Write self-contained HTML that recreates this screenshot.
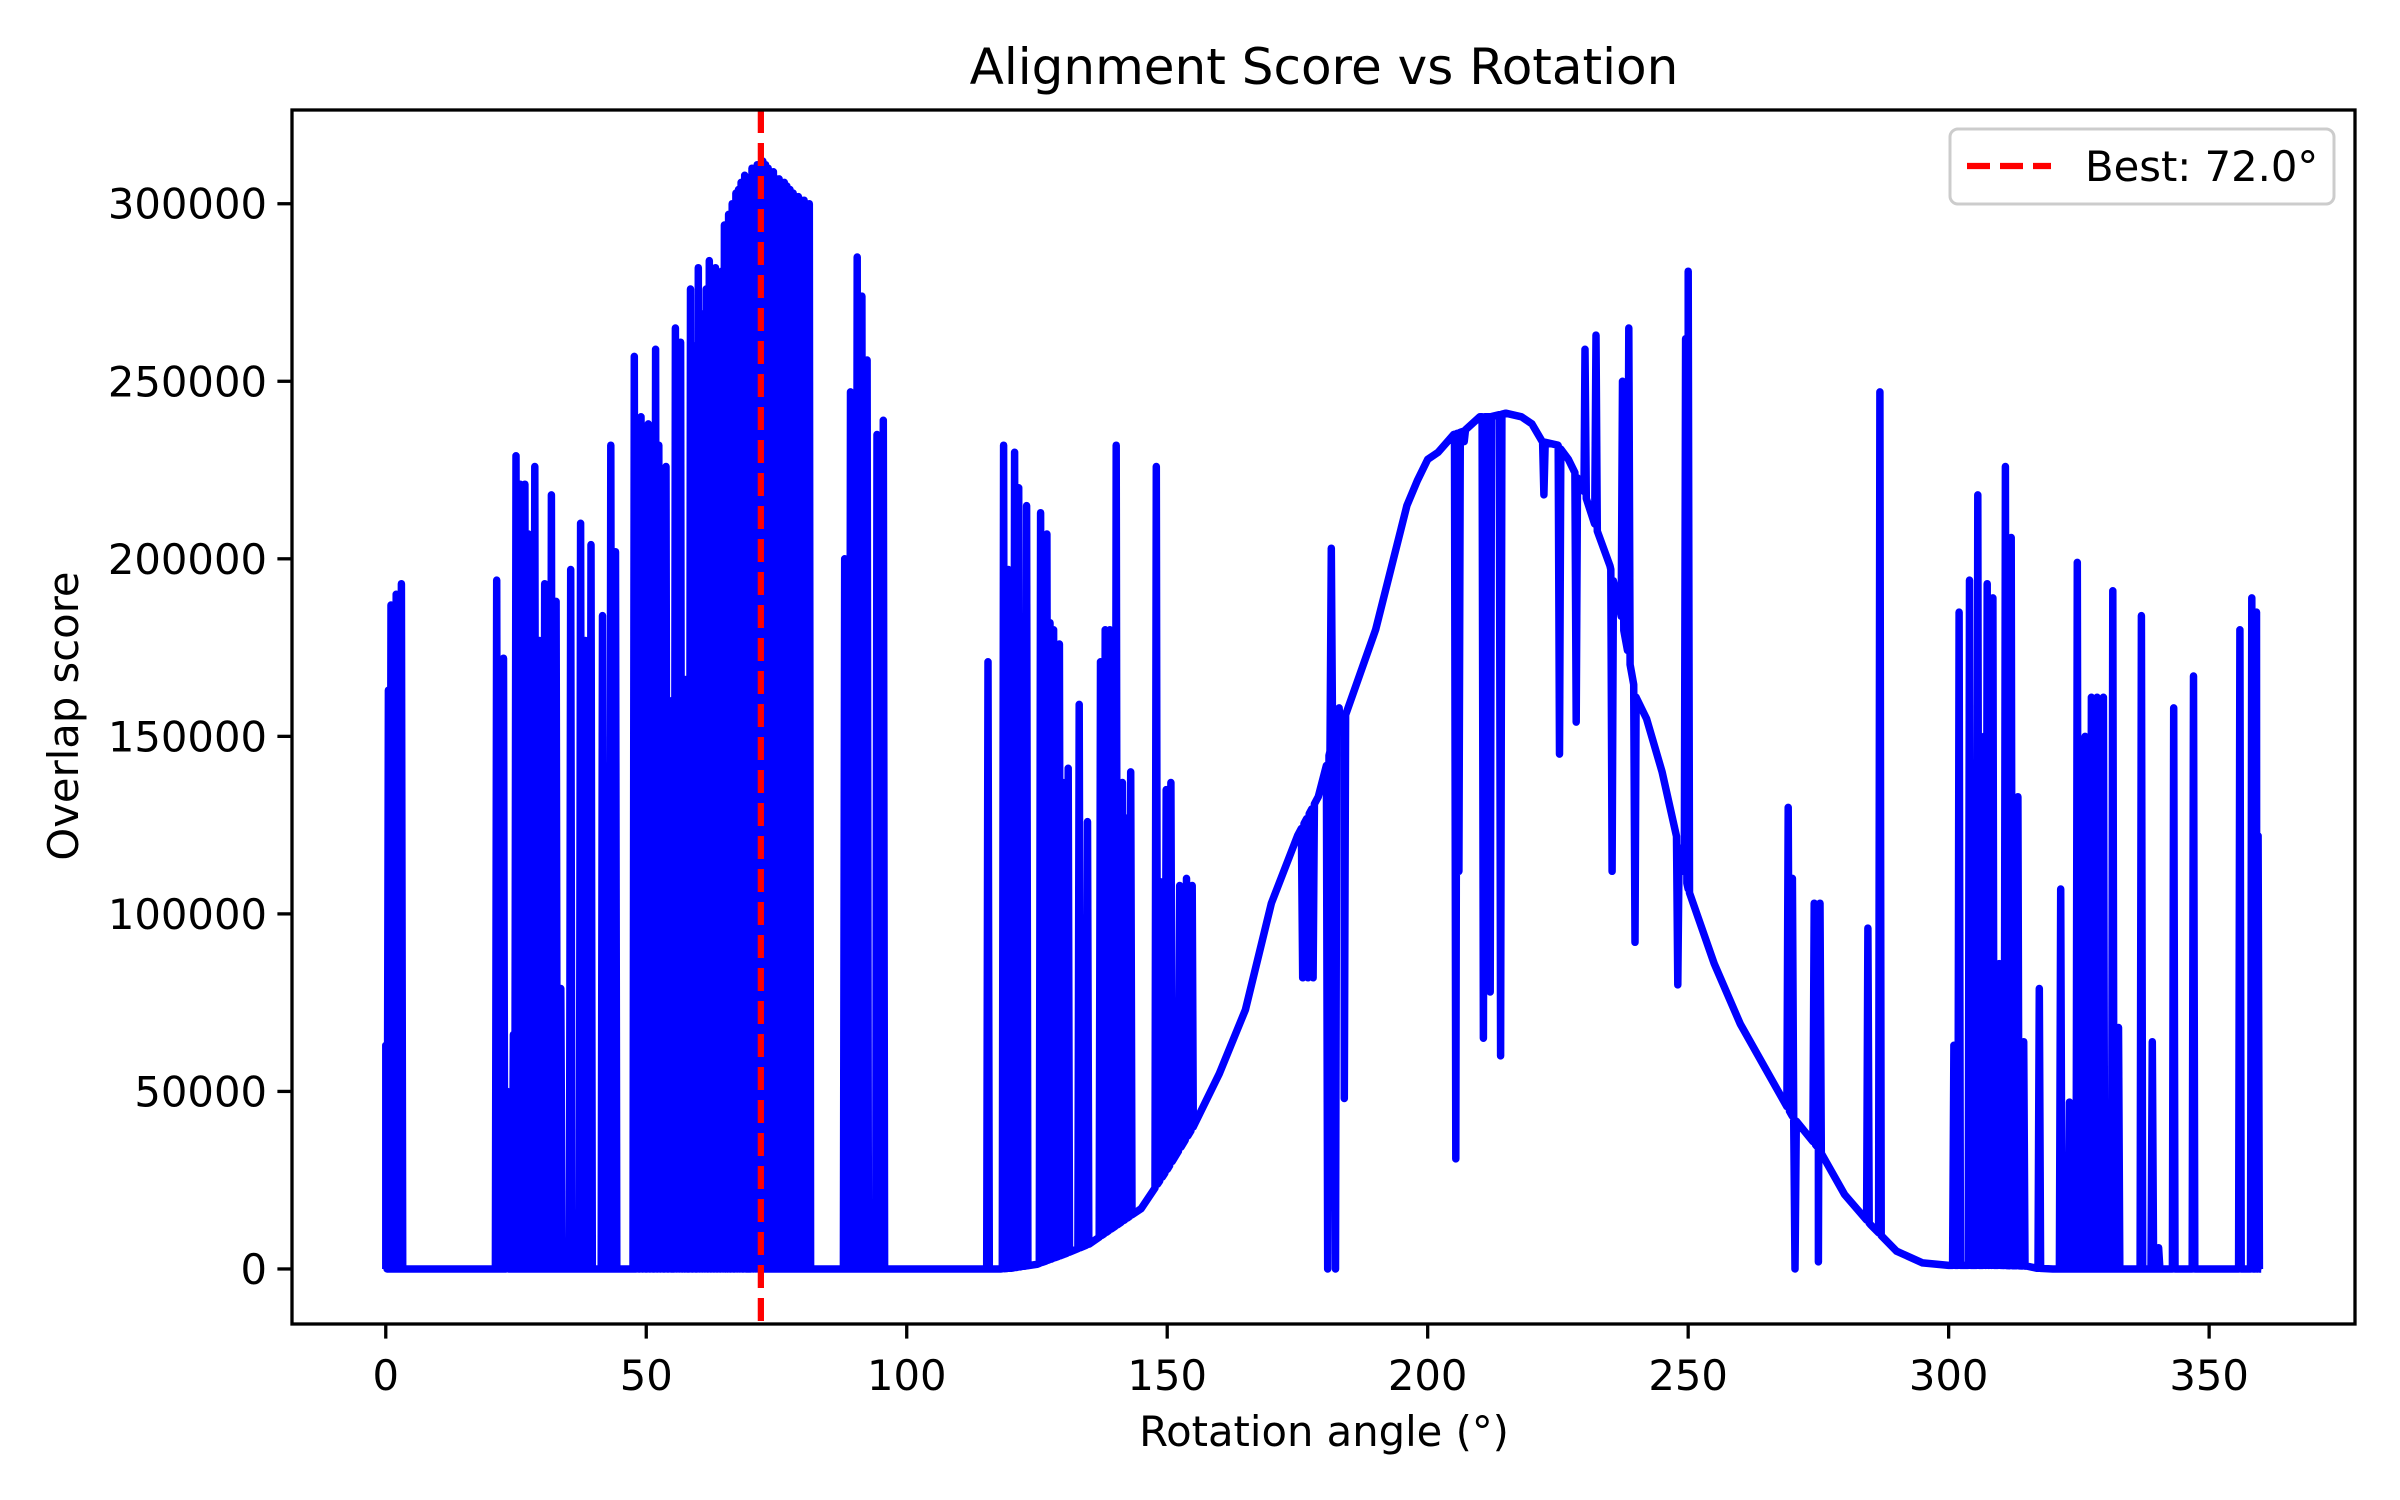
<!DOCTYPE html>
<html><head><meta charset="utf-8"><style>
html,body{margin:0;padding:0;background:#fff;}
svg{display:block;}
text{font-family:"DejaVu Sans","Liberation Sans",sans-serif;fill:#000;}
</style></head><body>
<svg id="chart" width="2400" height="1500" viewBox="0 0 2400 1500" xmlns="http://www.w3.org/2000/svg">
<rect x="0" y="0" width="2400" height="1500" fill="#fff"/>
<text x="1324" y="84" font-size="50" text-anchor="middle">Alignment Score vs Rotation</text>
<g id="plot"></g>
<g id="axes"></g>
<text x="1324" y="1446" font-size="41.7" text-anchor="middle">Rotation angle (°)</text>
<text x="0" y="0" font-size="41.7" text-anchor="middle" transform="translate(78,716) rotate(-90)">Overlap score</text>
<g>
<rect x="1950" y="129" width="384" height="75" rx="8" fill="#fff" fill-opacity="0.8" stroke="#ccc" stroke-width="3"/>
<line x1="1967" y1="166" x2="2051" y2="166" stroke="#ff0000" stroke-width="6.25" stroke-dasharray="23,10"/>
<text x="2085" y="181" font-size="41.7">Best: 72.0°</text>
</g>
</svg>
<script>
const curveAngles=[0,118,120,125,130,135,140,145,150,155,160,165,170,175,179,182,184,190,196,198,200,202,205,207,210,212,215,218,220,222,225,227,230,232,235,237,240,242,245,250,255,260,265,270,275,280,285,290,295,300,305,310,315,317,320,360];
const curveScores=[0,0,200,1300,4000,7000,12000,17000,28000,40000,55000,73000,103000,122000,133000,150000,155000,180000,215000,222000,228000,230000,235000,236000,240000,240000,241000,240000,238000,233000,232000,228000,219000,210000,198000,185000,161000,155000,140000,107000,86000,69000,56000,43000,34000,21000,12500,5000,1700,1000,1000,1000,800,200,0,0];
const spikeAngles=[0,0.5,1,2,3,21.3,22.6,23.3,23.8,24.5,25,25.8,26.7,27.4,28.6,29.5,30.5,31.8,32.7,33.6,35.5,37.4,38.3,39.4,41.6,43.2,44.1,
47.7,48.3,49,49.6,50.4,51,51.8,52.4,53,53.8,54.5,55.6,56.1,56.6,57.2,57.6,58.5,59.2,60,60.5,61,61.5,62.1,62.7,63.3,63.9,64.5,65,65.4,65.8,66.5,67.2,67.7,68.2,68.9,70.3,70.8,71.3,71.8,72.4,72.9,73.4,73.9,74.4,75,75.5,76,76.5,77,77.6,78.2,78.7,79.2,79.7,80.3,80.8,81.3,
88.1,89.2,90.5,91.4,92.4,94.3,95.5,
115.6,118.6,119.5,120.7,121.5,122.2,123,125.7,126.9,127.5,128.2,129.3,130,131,133.1,134.7,137.2,138.1,139,140.2,141.4,142.1,143,147.9,148.8,149.8,150.7,152.4,153.7,154.8,
176,177,178,180.8,181.5,182.3,183,184,205.4,206,207,210.7,212,214,222.3,225.3,228.5,230.2,232.3,235.4,237.4,238.6,239.8,248,249.5,250,
269.2,270,270.5,274.2,275,275.3,284.5,286.8,301,302,304,305.6,306.8,307.4,308,308.5,309.7,310.9,312,313.3,314.4,317.4,321.5,323.2,324.7,326.2,327.4,328.5,329.7,331.5,332.6,337,339.1,340.3,343.2,347,355.9,358.2,359.1,359.4];
const spikeScores=[63000,163000,187000,190000,193000,194000,172000,50000,10000,66000,229000,221000,221000,207000,226000,177000,193000,218000,188000,79000,197000,210000,177000,204000,184000,232000,202000,
257000,150000,240000,173000,238000,200000,259000,232000,180000,226000,160000,265000,240000,261000,166000,166000,276000,260000,282000,250000,269000,276000,284000,275000,282000,280000,281000,294000,294000,297000,300000,303000,304000,306000,308000,310000,310000,311000,311000,312000,311000,310000,309000,309000,307000,307000,306000,306000,305000,304000,303000,302000,302000,301000,301000,300000,300000,
200000,247000,285000,274000,256000,235000,239000,
171000,232000,197000,230000,220000,150000,215000,213000,207000,182000,180000,176000,137000,141000,159000,126000,171000,180000,180000,232000,137000,127000,140000,226000,109000,135000,137000,108000,110000,108000,
82000,82000,82000,0,203000,0,158000,48000,31000,112000,233000,65000,78000,60000,218000,145000,154000,259000,263000,112000,250000,265000,92000,80000,262000,281000,
130000,110000,0,103000,2000,103000,96000,247000,63000,185000,194000,218000,150000,193000,94000,189000,86000,226000,206000,133000,64000,79000,107000,47000,199000,150000,161000,161000,161000,191000,68000,184000,64000,6000,158000,167000,180000,189000,185000,122000];
const xTicks=[0,50,100,150,200,250,300,350];
const yTicks=[0,50000,100000,150000,200000,250000,300000];
const bestAngle=72.0;

const L=292,R=2355,T=110,B=1324,XMIN=-18,XMAX=378,YMIN=-15500,YMAX=326400;
function X(a){return L+(a-XMIN)/(XMAX-XMIN)*(R-L);}
function Y(v){return B-(v-YMIN)/(YMAX-YMIN)*(B-T);}
function base(a){for(let i=1;i<curveAngles.length;i++){if(a<=curveAngles[i]){const a0=curveAngles[i-1],a1=curveAngles[i];const t=(a-a0)/(a1-a0||1);return curveScores[i-1]+t*(curveScores[i]-curveScores[i-1]);}}return curveScores[curveScores.length-1];}
const NS='http://www.w3.org/2000/svg';
const plot=document.getElementById('plot');
const axes=document.getElementById('axes');
let pts=[];
curveAngles.forEach((a,i)=>pts.push([a,curveScores[i]]));
spikeAngles.forEach((a,i)=>{pts.push([a-0.25,base(a-0.25)]);pts.push([a,spikeScores[i]]);pts.push([a+0.25,base(a+0.25)]);});
pts.sort((p,q)=>p[0]-q[0]);
let d='';
pts.forEach((p,i)=>{const a=Math.max(0,Math.min(360,p[0]));d+=(i?'L':'M')+X(a).toFixed(1)+','+Y(p[1]).toFixed(1);});
const path=document.createElementNS(NS,'path');
path.setAttribute('d',d);
path.setAttribute('fill','none');path.setAttribute('stroke','#0000ff');path.setAttribute('stroke-width','7.5');path.setAttribute('stroke-linejoin','round');


plot.appendChild(path);
const best=document.createElementNS(NS,'line');
best.setAttribute('x1',X(bestAngle));best.setAttribute('x2',X(bestAngle));best.setAttribute('y1',T);best.setAttribute('y2',B);
best.setAttribute('stroke','#ff0000');best.setAttribute('stroke-width','6.25');best.setAttribute('stroke-dasharray','23,10');


plot.appendChild(best);
const fr=document.createElementNS(NS,'rect');
fr.setAttribute('x',L);fr.setAttribute('y',T);fr.setAttribute('width',R-L);fr.setAttribute('height',B-T);
fr.setAttribute('fill','none');fr.setAttribute('stroke','#000');fr.setAttribute('stroke-width','3.3');


axes.appendChild(fr);
xTicks.forEach(t=>{
  const l=document.createElementNS(NS,'line');
  l.setAttribute('x1',X(t));l.setAttribute('x2',X(t));l.setAttribute('y1',B);l.setAttribute('y2',B+14.6);
  l.setAttribute('stroke','#000');l.setAttribute('stroke-width','3.3');
  
  
  axes.appendChild(l);
  const tx=document.createElementNS(NS,'text');
  tx.setAttribute('x',X(t));tx.setAttribute('y',B+66);tx.setAttribute('font-size','41.7');tx.setAttribute('text-anchor','middle');
  tx.textContent=t;
  
  
  axes.appendChild(tx);
});
yTicks.forEach(t=>{
  const l=document.createElementNS(NS,'line');
  l.setAttribute('x1',L-14.6);l.setAttribute('x2',L);l.setAttribute('y1',Y(t));l.setAttribute('y2',Y(t));
  l.setAttribute('stroke','#000');l.setAttribute('stroke-width','3.3');
  
  
  axes.appendChild(l);
  const tx=document.createElementNS(NS,'text');
  tx.setAttribute('x',L-25);tx.setAttribute('y',Y(t)+15);tx.setAttribute('font-size','41.7');tx.setAttribute('text-anchor','end');
  tx.textContent=t;
  
  
  axes.appendChild(tx);
});
</script>
</body></html>
